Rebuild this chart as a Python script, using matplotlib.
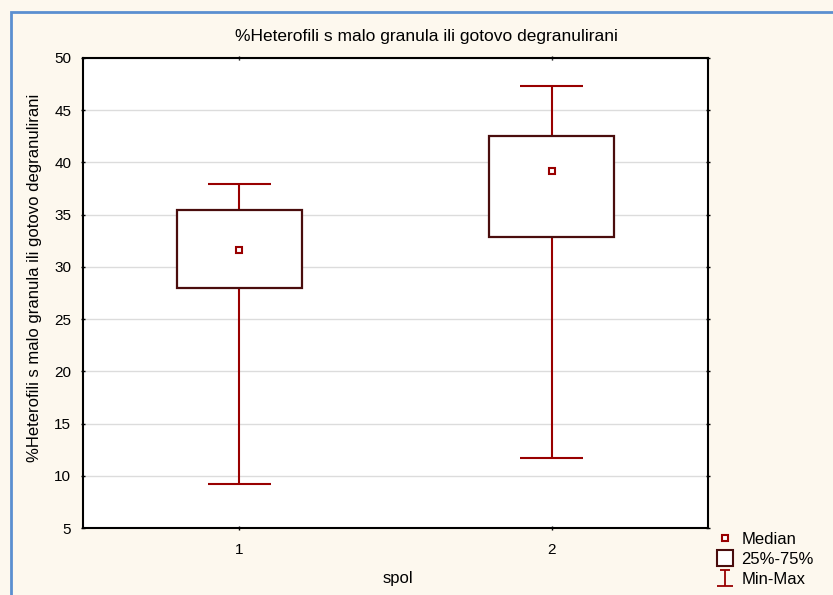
import matplotlib
matplotlib.use("Agg")
import matplotlib.pyplot as plt
from matplotlib.lines import Line2D
from matplotlib.patches import Rectangle
from matplotlib.path import Path

plt.rcParams['font.family'] = ['Liberation Sans', 'DejaVu Sans']

# data
groups = [1, 2]
vmin = [9.2, 11.7]
q1 = [28.0, 32.9]
median = [31.6, 39.2]
q3 = [35.4, 42.5]
vmax = [37.9, 47.3]

title = "%Heterofili s malo granula ili gotovo degranulirani"
ylab = "%Heterofili s malo granula ili gotovo degranulirani"
xlab = "spol"

whisk_col = "#990000"
box_col = "#4a0d0d"
bg = "#fdf8ee"

fig = plt.figure(figsize=(8.33, 5.95), dpi=100)
fig.patch.set_facecolor(bg)

# blue frame round the graph window
fig.patches.append(Rectangle((11/833, -0.1), 1.2, 1 - 12/595 + 0.1,
                             transform=fig.transFigure, fill=False,
                             edgecolor="#5b8fd0", linewidth=2, zorder=0))

ax = fig.add_axes([83/833, 1 - 528/595, (708-83)/833, (528-58)/595])
ax.set_facecolor("white")

box_w = 0.4
cap_w = 0.2
ax.vlines(groups, vmin, q1, color=whisk_col, lw=1.5, zorder=2)
ax.vlines(groups, q3, vmax, color=whisk_col, lw=1.5, zorder=2)
ax.hlines(vmin, [g - cap_w/2 for g in groups], [g + cap_w/2 for g in groups],
          color=whisk_col, lw=1.5, zorder=2)
ax.hlines(vmax, [g - cap_w/2 for g in groups], [g + cap_w/2 for g in groups],
          color=whisk_col, lw=1.5, zorder=2)
ax.bar(groups, [b - a for a, b in zip(q1, q3)], bottom=q1, width=box_w,
       facecolor="white", edgecolor=box_col, linewidth=1.6, zorder=3)
ax.plot(groups, median, linestyle="None", marker="s", markersize=5,
        markerfacecolor="white", markeredgecolor=whisk_col,
        markeredgewidth=1.5, zorder=4)

ax.set_xlim(0.5, 2.5)
ax.set_ylim(5, 50)
ax.set_xticks(groups)
ax.set_yticks(range(5, 51, 5))
ax.yaxis.grid(True, color="#dcdcdc", lw=1)
ax.set_axisbelow(True)
for s in ax.spines.values():
    s.set_linewidth(1.5)
    s.set_color("black")
ax.tick_params(axis="both", labelsize=11, length=3, width=1, direction="inout",
               top=True, right=True)
ax.tick_params(axis="y", pad=7)
ax.tick_params(axis="x", pad=9)

fig.text(426/833, 1 - 37/595, title, ha="center", va="center", fontsize=12.5)
fig.text(35/833, 1 - 278/595, ylab, ha="center", va="center",
         rotation=90, fontsize=12)
fig.text(398/833, 1 - 578/595, xlab, ha="center", va="center", fontsize=12)

# legend
ibeam = Path([(-0.6, 1), (0.6, 1), (0, 1), (0, -1), (-1, -1), (1, -1)],
             [Path.MOVETO, Path.LINETO, Path.MOVETO, Path.LINETO,
              Path.MOVETO, Path.LINETO])
handles = [
    Line2D([], [], linestyle="None", marker="s", markersize=5,
           markerfacecolor="white", markeredgecolor=whisk_col,
           markeredgewidth=1.5),
    Line2D([], [], linestyle="None", marker="s", markersize=11,
           markerfacecolor="white", markeredgecolor=box_col,
           markeredgewidth=1.5),
    Line2D([], [], linestyle="None", marker=ibeam, markersize=12,
           markerfacecolor="none", markeredgecolor=whisk_col,
           markeredgewidth=1.3),
]
fig.legend(handles, ["Median", "25%-75%", "Min-Max"], loc="upper left",
           bbox_to_anchor=(708/833, 1 - 524/595), frameon=False,
           fontsize=12, handlelength=1.0, handletextpad=0.5,
           labelspacing=0.3, borderpad=0)

fig.savefig("out.png", dpi=100, facecolor=bg)
